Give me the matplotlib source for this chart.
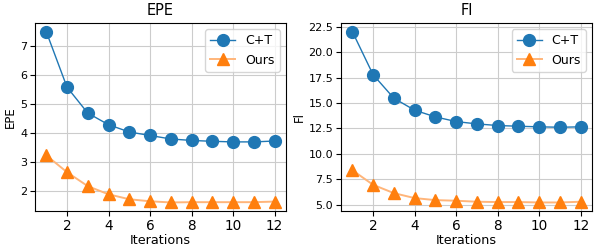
import numpy as np
import matplotlib
matplotlib.use("Agg")
import matplotlib.pyplot as plt

iters = np.arange(1, 13)

epe_ct = [7.48, 5.57, 4.68, 4.28, 4.03, 3.91, 3.79, 3.74, 3.71, 3.69, 3.69, 3.72]
epe_ours = [3.23, 2.65, 2.17, 1.89, 1.72, 1.65, 1.61, 1.62, 1.62, 1.62, 1.62, 1.64]

fl_ct = [22.05, 17.8, 15.48, 14.3, 13.64, 13.18, 12.95, 12.79, 12.72, 12.66, 12.62, 12.66]
fl_ours = [8.39, 6.95, 6.13, 5.64, 5.44, 5.38, 5.28, 5.25, 5.25, 5.21, 5.21, 5.28]

fig, axes = plt.subplots(1, 2, figsize=(6, 2.5), dpi=100)

panels = [(axes[0], epe_ct, epe_ours, "EPE"), (axes[1], fl_ct, fl_ours, "Fl")]
for ax, ct, ours, name in panels:
    ax.plot(iters, ct, marker="o", markersize=8.5, linewidth=1, color="#1f77b4", label="C+T")
    ax.plot(iters, ours, marker="^", markersize=8.5, linewidth=1.4, color="#ffb57a",
            markerfacecolor="#ff7f0e", markeredgecolor="#ff7f0e", label="Ours")
    ax.set_title(name, fontsize=10.5)
    ax.set_xlabel("Iterations", fontsize=9.2, labelpad=1)
    ax.set_ylabel(name, fontsize=8.5, labelpad=2)
    ax.tick_params(axis="x", labelsize=9.8, pad=2)
    ax.tick_params(axis="y", labelsize=8, pad=2)
    ax.set_xticks([2, 4, 6, 8, 10, 12])
    ax.grid(True, color="#cccccc", linewidth=0.8)
    ax.legend(loc="upper right", fontsize=9)

plt.subplots_adjust(left=0.058, right=0.987, top=0.908, bottom=0.156, wspace=0.218)
plt.savefig("out.png")
